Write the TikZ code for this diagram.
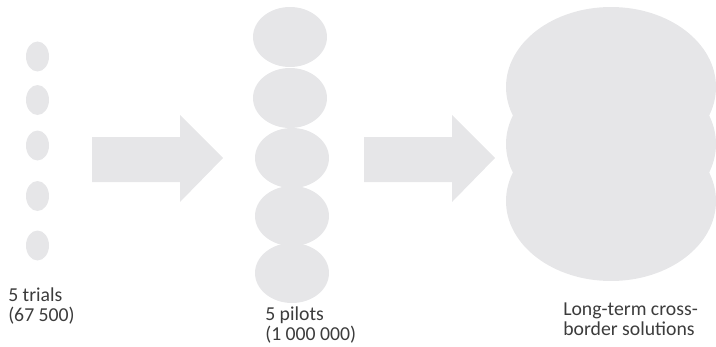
\documentclass[tikz,border=0pt]{standalone}
\usepackage{fontspec}
\setmainfont{Carlito}
\definecolor{blobgray}{HTML}{E6E6E8}
\definecolor{labelgray}{HTML}{3C3C3C}
\begin{document}
\begin{tikzpicture}[x=0.75pt,y=-0.75pt,
  blob/.style={fill=blobgray,draw=none},
  label/.style={inner sep=0pt,anchor=base west,align=left,text=labelgray,
    font=\fontsize{14.8}{14.5}\selectfont}]
\useasboundingbox (0,0) rectangle (716,346);

% stage 1: five small trials
\foreach \y [count=\i] in {56.5,100,145.5,196,245.5}
  \fill[blob] (37.5,\y) ellipse [x radius=11.5, y radius=15];

% stage 2: five pilots
\foreach \x/\y [count=\i] in {290/37,290/98,292/158,292/216,292/273}
  \fill[blob] (\x,\y) ellipse [x radius=37, y radius=30];

% stage 3: merged long-term solution
\foreach \y in {87,144,201}
  \fill[blob] (611,\y) ellipse [x radius=105, y radius=80];

% block arrows between the stages
\fill[blob] (92,137) -- (180,137) -- (180,115) -- (223,158) -- (180,202)
  -- (180,182) -- (92,182) -- cycle;
\fill[blob] (364,137) -- (452,137) -- (452,115) -- (495,158) -- (452,202)
  -- (452,182) -- (364,182) -- cycle;

% captions (anchored at the baseline of their last line)
\node[label] (trials) at (8,321) {5 trials\\(67 500)};
\node[label] (pilots) at (265,340) {5 pilots\\(1 000 000)};
\node[label] (longterm) at (563,335) {Long-term cross-\\border solutions};
\end{tikzpicture}
\end{document}
